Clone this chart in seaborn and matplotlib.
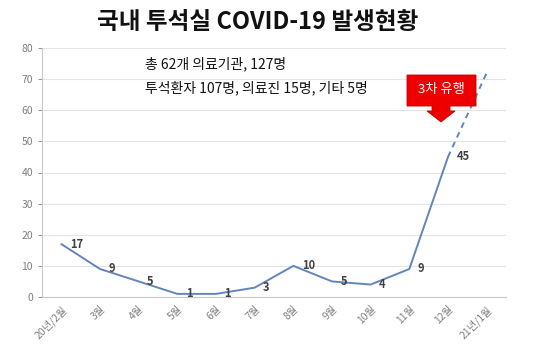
import matplotlib
matplotlib.use("Agg")
import matplotlib.pyplot as plt
import seaborn as sns
import pandas as pd
from matplotlib.patches import Polygon

# Data
months = ["20년/2월", "3월", "4월", "5월", "6월", "7월", "8월", "9월", "10월", "11월", "12월", "21년/1월"]
cases = [17, 9, 5, 1, 1, 3, 10, 5, 4, 9, 45]
forecast = [45, 72]  # 12월 -> 21년/1월 (dashed)
info_lines = ["총 62개 의료기관, 127명", "투석환자 107명, 의료진 15명, 기타 5명"]
title = "국내 투석실 COVID-19 발생현황"

sns.set_theme(style="white")
plt.rcParams['font.family'] = ['Noto Sans CJK KR', 'DejaVu Sans']

df = pd.DataFrame({"idx": range(len(cases)), "cases": cases})
df_fc = pd.DataFrame({"idx": [len(cases) - 1, len(cases)], "cases": forecast})

line_color = "#6285bb"
W, H = 540, 360
fig = plt.figure(figsize=(5.4, 3.6), dpi=100)
ax = fig.add_axes([42 / W, 1 - 297 / H, 464 / W, 249 / H])

sns.lineplot(data=df, x="idx", y="cases", ax=ax, color=line_color, linewidth=1.4)
sns.lineplot(data=df_fc, x="idx", y="cases", ax=ax, color=line_color, linewidth=1.4,
             linestyle=(0, (3, 2.5)))

for i, v in enumerate(cases):
    ax.annotate(str(v), (i, v), xytext=(6, 0), textcoords="offset points",
                ha="left", va="center", fontsize=8, fontweight="bold", color="#404040")

ax.set_xlim(-0.5, len(months) - 0.5)
ax.set_ylim(0, 80)
ax.set_yticks(range(0, 81, 10))
ax.set_xticks(range(len(months)))
ax.set_xticklabels(months, rotation=45, ha="right", rotation_mode="anchor", fontsize=7.5, color="#7f7f7f")
ax.tick_params(axis="y", labelsize=7.5, colors="#7f7f7f", length=3, width=0.6, left=True)
ax.tick_params(axis="x", length=0, pad=5)
ax.set_xlabel("")
ax.set_ylabel("")
ax.grid(axis="y", color="#e4e4e4", linewidth=0.8)
ax.set_axisbelow(True)
for s in ["top", "right"]:
    ax.spines[s].set_visible(False)
for s in ["left", "bottom"]:
    ax.spines[s].set_color("#c8c8c8")
    ax.spines[s].set_linewidth(0.8)

# Title
fig.text(258 / W, 1 - 22 / H, title, ha="center", va="center", fontsize=17, fontweight="bold", color="#111111")

# Info text
fig.text(145 / W, 1 - 64 / H, info_lines[0], ha="left", va="center", fontsize=10, color="#111111")
fig.text(145 / W, 1 - 88 / H, info_lines[1], ha="left", va="center", fontsize=10, color="#111111")

# Red callout arrow
pts_px = [(407, 75), (476, 75), (476, 106), (450, 106), (450, 111), (455, 111), (441, 122),
          (427, 111), (432, 111), (432, 106), (407, 106)]
pts = [(x / W, 1 - y / H) for x, y in pts_px]
fig.patches.append(Polygon(pts, closed=True, transform=fig.transFigure, facecolor="#ee0000",
                           edgecolor="#c00000", linewidth=0.6))
fig.text(441 / W, 1 - 90 / H, "3차 유행", ha="center", va="center", fontsize=9.5, color="white")

plt.savefig("out.png", dpi=100)
